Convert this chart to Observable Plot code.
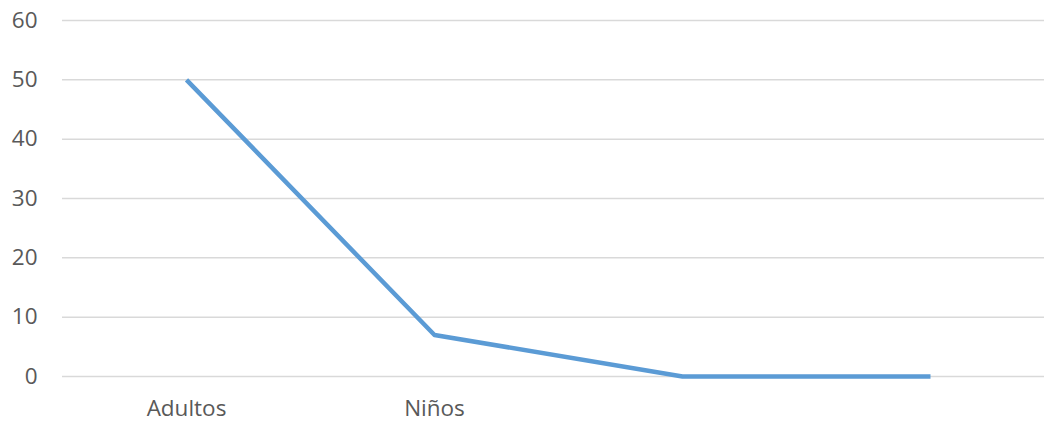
<!DOCTYPE html>
<html><head><meta charset="utf-8">
<script src="https://cdn.jsdelivr.net/npm/d3@7"></script>
<script src="https://cdn.jsdelivr.net/npm/@observablehq/plot@0.6"></script>
<style>body{margin:0;background:#fff;} svg{display:block;}</style>
</head><body><div id="chart"></div>
<script>
const categories = ["Adultos", "Niños", "", " "];
const values = [50, 7, 0, 0];
const yTicks = [0, 10, 20, 30, 40, 50, 60];

const data = categories.map((c, i) => ({cat: c, v: values[i]}));

const chart = Plot.plot({
  width: 1044,
  height: 422,
  marginLeft: 62,
  marginRight: 0,
  marginTop: 20,
  marginBottom: 46,
  style: {fontFamily: "'Open Sans', sans-serif", fontSize: "22.5px", color: "#595959", background: "#fff"},
  x: {type: "band", domain: categories, range: [62, 1054], padding: 0, label: null},
  y: {domain: [0, 60], ticks: yTicks, label: null},
  marks: [
    Plot.gridY(yTicks, {stroke: "#d9d9d9", strokeOpacity: 1, strokeWidth: 1.5}),
    Plot.axisY(yTicks, {tickSize: 0, tickPadding: 25, label: null, fill: "#595959", fontSize: 22.5}),
    Plot.axisX({tickSize: 0, tickPadding: 24, label: null, fill: "#595959", fontSize: 22.5}),
    Plot.line(data, {x: "cat", y: "v", stroke: "#5b9bd5", strokeWidth: 4.5, strokeLinejoin: "round", strokeLinecap: "butt"})
  ]
});
document.getElementById("chart").appendChild(chart);
</script></body></html>
